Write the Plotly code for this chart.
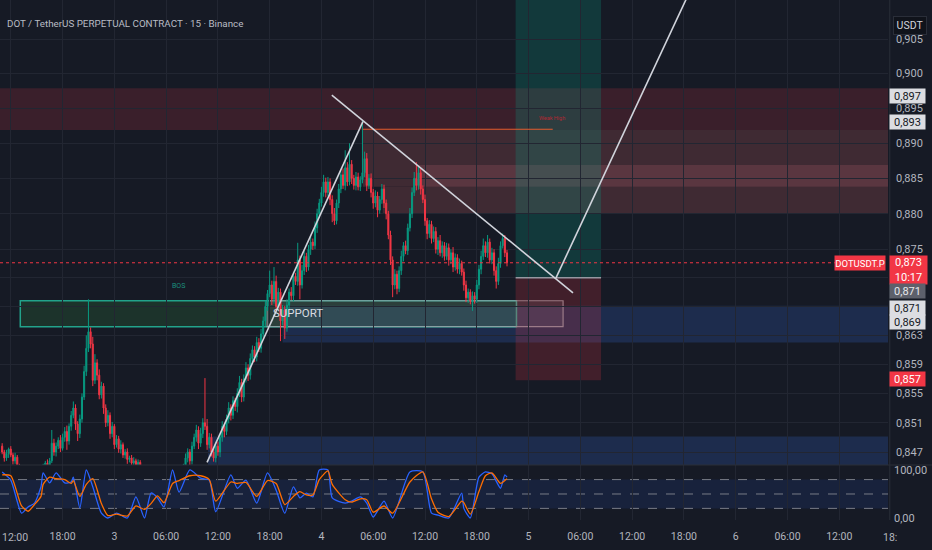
import math
import plotly.graph_objects as go
from plotly.subplots import make_subplots

# DOTUSDT.P 15m candles, prices in 1/10000 USDT, open = previous close
first_open = 8478
closes = [
    8470, 8462, 8468, 8474, 8466, 8458, 8463,
    8450, 8444, 8438, 8441, 8435, 8430, 8433, 8438, 8436, 8442, 8445, 8440, 8448,
    8455, 8452, 8458, 8482, 8470,
    8478, 8486, 8475, 8490, 8498, 8485, 8505, 8520, 8530, 8508, 8495, 8515, 8545, 8580, 8612,
    8635, 8618, 8568, 8592, 8575, 8548, 8560, 8530, 8510, 8520,
    8495, 8505, 8480, 8488, 8474, 8480, 8466, 8470, 8460, 8462,
    8455, 8458, 8452, 8456, 8446,
    8440, 8435, 8430, 8436, 8428, 8424, 8430, 8433, 8427, 8422,
    8426, 8432, 8438, 8434, 8440, 8436, 8442, 8446, 8444, 8450,
    8462, 8470, 8458, 8478, 8490, 8500, 8482, 8495, 8510, 8505,
    8480, 8490, 8470, 8462,
    8478, 8470, 8490, 8505, 8498, 8515, 8530, 8520, 8540, 8532,
    8550, 8565, 8545, 8570, 8585, 8575, 8598, 8610, 8600, 8620,
    8612, 8632, 8650, 8670, 8688, 8700, 8680, 8705, 8670, 8690,
    8650, 8665,
    8640, 8672, 8690, 8685, 8712, 8705, 8735, 8700, 8720, 8740,
    8725, 8750, 8760, 8755, 8780, 8800, 8815, 8830, 8845, 8830,
    8845, 8820, 8800, 8790, 8815, 8835, 8855, 8840, 8865, 8845,
    8870, 8850, 8840, 8852, 8838, 8848, 8858,
    8878, 8840, 8850, 8830, 8815, 8825, 8805, 8820, 8835, 8815,
    8800, 8770, 8735, 8700, 8715, 8695, 8720, 8740, 8755, 8748,
    8780, 8800, 8830, 8850, 8840, 8858, 8835, 8820, 8790, 8772,
    8785, 8765, 8775, 8750, 8762, 8745, 8755, 8740, 8752, 8735,
    8745, 8725, 8738, 8722, 8730, 8718, 8700, 8682, 8690, 8678,
    8685, 8680, 8700, 8722, 8740, 8755, 8745, 8760, 8735, 8745,
    8720, 8705, 8730, 8755, 8765, 8745, 8731,
]
wick_up = [
    4, 3, 5, 2, 4, 3, 6, 3, 4, 2,
    5, 3, 4, 6, 3, 4, 5, 3, 4, 6,
    3, 5, 4, 18, 6, 5, 4, 7, 5, 6,
    8, 4, 6, 9, 5, 4, 6, 5, 8, 18,
    45, 6, 10, 12, 5, 8, 6, 4, 5, 7,
    4, 6, 3, 5, 4, 6, 3, 4, 5, 3,
    4, 5, 3, 4, 3, 5, 4, 3, 5, 4,
    3, 4, 5, 3, 4, 5, 3, 6, 4, 5,
    3, 4, 5, 3, 4, 6, 5, 4, 6, 5,
    7, 5, 8, 6, 61, 10, 6, 5, 4, 5,
    6, 5, 7, 4, 6, 8, 5, 6, 4, 7,
    9, 5, 6, 8, 5, 7, 6, 5, 8, 6,
    7, 6, 8, 5, 20, 6, 20, 8, 6, 5,
    7, 6, 8, 5, 7, 6, 5, 24, 6, 8,
    7, 5, 6, 8, 5, 9, 7, 6, 8, 10,
    6, 7, 5, 6, 8, 5, 7, 6, 9, 25,
    8, 30, 6, 5, 7, 6, 5, 74, 10, 8,
    6, 7, 5, 8, 6, 5, 7, 6, 5, 4,
    6, 5, 7, 5, 6, 8, 5, 7, 6, 8,
    7, 9, 23, 10, 6, 5, 7, 4, 6, 5,
    7, 6, 5, 8, 6, 5, 7, 6, 5, 8,
    6, 5, 7, 4, 5, 6, 5, 4, 6, 5,
    7, 6, 8, 10, 6, 10, 5, 7, 5, 6,
    8, 6, 7, 5, 4,
]
wick_dn = [
    3, 5, 4, 6, 3, 5, 4, 6, 3, 5,
    4, 6, 3, 5, 4, 3, 6, 4, 5, 3,
    6, 4, 5, 3, 5, 6, 4, 5, 3, 6,
    12, 5, 6, 4, 8, 10, 6, 5, 4, 6,
    5, 6, 8, 5, 7, 6, 5, 8, 6, 5,
    7, 5, 6, 4, 5, 6, 4, 5, 6, 4,
    5, 4, 6, 3, 5, 4, 6, 5, 3, 5,
    4, 6, 3, 5, 4, 6, 5, 3, 4, 6,
    5, 4, 6, 3, 5, 4, 6, 7, 5, 4,
    6, 8, 5, 6, 5, 7, 5, 6, 5, 6,
    5, 7, 6, 8, 5, 6, 7, 5, 6, 8,
    5, 7, 6, 5, 8, 6, 5, 7, 6, 5,
    6, 5, 7, 6, 5, 8, 6, 7, 5, 28,
    6, 15, 5, 7, 6, 8, 5, 6, 20, 5,
    6, 7, 5, 8, 6, 5, 7, 6, 5, 6,
    7, 5, 8, 12, 6, 5, 7, 6, 5, 7,
    6, 5, 8, 6, 7, 5, 6, 5, 6, 8,
    5, 7, 8, 6, 10, 5, 6, 7, 8, 6,
    7, 17, 6, 8, 5, 6, 7, 5, 6, 5,
    6, 5, 7, 6, 8, 5, 7, 8, 6, 7,
    5, 6, 8, 5, 7, 6, 5, 8, 6, 7,
    5, 6, 7, 5, 8, 6, 7, 5, 14, 6,
    5, 6, 7, 5, 6, 7, 5, 6, 7, 10,
    5, 6, 4, 6, 5,
]

# Stoch RSI read at these candle indexes
stoch_idx = [0, 4, 9, 12, 15, 18, 19, 22, 25, 29, 32, 33, 36, 39, 42, 46, 49, 53, 58, 62,
             66, 69, 72, 75, 79, 82, 87, 92, 96, 99, 106, 109, 113, 118, 123, 127, 131, 135,
             138, 141, 144, 147, 151, 153, 159, 162, 166, 169, 172, 177, 181, 189, 195, 199,
             202, 207, 213, 214, 217, 221, 224, 227, 231, 233, 234]
stoch_k = [96, 79, 10, 23, 31, 65, 94, 73, 94, 73, 75, 85, 21, 100, 65, 10, 0, 10, 0, 44,
           0, 52, 42, 23, 100, 54, 100, 83, 79, 13, 90, 62, 79, 31, 94, 58, 10, 65,
           42, 52, 44, 100, 100, 42, 31, 35, 44, 31, 2, 35, 0, 96, 96, 10,
           6, 0, 52, 20, 0, 85, 96, 92, 62, 90, 85]
stoch_d = [90, 88, 25, 14, 28, 45, 70, 85, 82, 80, 72, 78, 45, 70, 82, 30, 5, 8, 4, 25,
           18, 30, 46, 32, 72, 78, 88, 88, 80, 35, 75, 72, 74, 45, 78, 72, 28, 45,
           55, 48, 48, 80, 98, 70, 38, 33, 40, 38, 12, 25, 10, 75, 96, 40,
           12, 3, 35, 32, 8, 55, 88, 94, 72, 78, 82]

# time axis in hours from day "3" 00:00 (first label drawn separately at the left edge)
time_ticks = [-12, -6, 0, 6, 12, 18, 24, 30, 36, 42, 48, 54, 60, 66, 72, 78, 84]
time_labels = ["", "18:00", "3", "06:00", "12:00", "18:00", "4", "06:00", "12:00",
               "18:00", "5", "06:00", "12:00", "18:00", "6", "06:00", "12:00"]
price_ticks = [0.847, 0.851, 0.855, 0.859, 0.863, 0.867, 0.871, 0.875,
               0.880, 0.885, 0.890, 0.895, 0.900, 0.905]
price_labels = ["0,847", "0,851", "0,855", "0,859", "0,863", "", "", "0,875",
                "0,880", "0,885", "0,890", "0,895", "0,900", "0,905"]

BG = "#161a25"
GRID = "#222632"
TXT = "#b2b5be"
UP = "#089981"
DN = "#f23645"
FONT = "Roboto"

n = len(closes)
times = [-13.0 + 0.25 * i for i in range(n)]
opens = [first_open] + closes[:-1]
o = [v / 1e4 for v in opens]
c = [v / 1e4 for v in closes]
hi = [(max(a, b) + u) / 1e4 for a, b, u in zip(opens, closes, wick_up)]
lo = [(min(a, b) - d) / 1e4 for a, b, d in zip(opens, closes, wick_dn)]

fig = make_subplots(rows=2, cols=1, shared_xaxes=True, vertical_spacing=0)

fig.add_trace(go.Candlestick(
    x=times, open=o, high=hi, low=lo, close=c,
    increasing=dict(line=dict(color=UP, width=1), fillcolor=UP),
    decreasing=dict(line=dict(color=DN, width=1), fillcolor=DN),
    showlegend=False, hoverinfo="skip",
), row=1, col=1)

sx = [times[i] for i in stoch_idx]
fig.add_trace(go.Scatter(x=sx, y=stoch_k, mode="lines",
                         line=dict(color="#2962ff", width=1.3, shape="spline", smoothing=0.6),
                         showlegend=False, hoverinfo="skip"), row=2, col=1)
fig.add_trace(go.Scatter(x=sx, y=stoch_d, mode="lines",
                         line=dict(color="#ff6d00", width=1.3, shape="spline", smoothing=0.6),
                         showlegend=False, hoverinfo="skip"), row=2, col=1)


def zone(x0, x1, y0, y1, fill, line_color=None, line_width=0, xref="x"):
    fig.add_shape(type="rect", xref=xref, yref="y", x0=x0, x1=x1, y0=y0, y1=y1,
                  fillcolor=fill, layer="below",
                  line=dict(color=line_color or "rgba(0,0,0,0)", width=line_width))


def seg(x0, y0, x1, y1, color, width=1.5, dash="solid"):
    fig.add_shape(type="line", xref="x", yref="y", x0=x0, y0=y0, x1=x1, y1=y1,
                  line=dict(color=color, width=width, dash=dash), layer="above")


# supply / demand zones
zone(0, 1, 0.8919, 0.8979, "#3a1f2b", xref="x domain")
zone(28.8, 95, 0.8838, 0.8919, "#3f2a33")
zone(31.1, 95, 0.8800, 0.8838, "#3f2a33")
zone(35.1, 95, 0.8838, 0.8869, "#5a3640")
zone(19.5, 95, 0.8620, 0.8671, "#1d2c4d")
zone(10.85, 95, 0.8400, 0.8491, "#1d2c4d")
zone(-10.9, 46.6, 0.8642, 0.8678, "rgba(50,140,70,0.22)", "#22a38b", 1.5)
zone(17.7, 52.0, 0.8642, 0.8678, "rgba(120,123,134,0.18)", "rgba(160,163,170,0.8)", 1.2)

# long position tool
zone(46.5, 56.4, 0.8710, 0.95, "rgba(8,153,129,0.25)")
zone(46.5, 56.4, 0.8568, 0.8710, "rgba(242,54,69,0.2)")
seg(46.5, 0.8710, 56.4, 0.8710, "#9598a1", 1.5)

# drawings
seg(28.8, 0.8920, 50.8, 0.8920, "#e65c2e", 1.2)
seg(-13.25, 0.8731, 95, 0.8731, DN, 1, "dot")
seg(10.74, 0.8456, 28.8, 0.8931, "#d1d4dc", 1.6)
seg(25.2, 0.8969, 53.15, 0.8689, "#d1d4dc", 1.6)
seg(51.18, 0.8710, 68.0, 0.9155, "#d1d4dc", 1.6)

# stoch bands
fig.add_shape(type="rect", xref="x2 domain", yref="y2", x0=0, x1=1, y0=20, y1=80,
              fillcolor="rgba(41,98,255,0.11)", line=dict(width=0), layer="below")
for lvl in (20, 50, 80):
    fig.add_shape(type="line", xref="x2 domain", yref="y2", x0=0, x1=1, y0=lvl, y1=lvl,
                  line=dict(color="#787b86", width=1, dash="dash"), layer="below")

# pane separators
fig.add_shape(type="line", xref="paper", yref="paper", x0=0, x1=1.06, y0=55 / 520, y1=55 / 520,
              line=dict(color="#2a2e39", width=1))
fig.add_shape(type="line", xref="paper", yref="paper", x0=1.002, x1=1.002, y0=0, y1=1,
              line=dict(color="#2a2e39", width=1))

L = math.log10


def text(x, y, s, color, size, anchor="center"):
    fig.add_annotation(x=x, y=L(y), xref="x", yref="y", text=s, showarrow=False,
                       xanchor=anchor, font=dict(color=color, size=size, family=FONT))


text(7.38, 0.86985, "BOS", "#1b8f7d", 7)
text(18.1, 0.8661, "SUPPORT", "#d9dbe0", 11.5, "left")
text(50.7, 0.89361, "Weak High", "#b22833", 5.5)


def side_label(price, s, bg, fg, h=14, w=35):
    fig.add_annotation(x=1, xref="paper", xanchor="left", xshift=1, y=L(price), yref="y",
                       text=s, showarrow=False, bgcolor=bg, width=w, height=h, borderpad=0,
                       font=dict(color=fg, size=11, family=FONT))


side_label(0.8968, "0,897", "#dcdde2", "#131722")
side_label(0.8931, "0,893", "#dcdde2", "#131722")
side_label(0.8721, "0,873<br>10:17", DN, "#ffffff", h=28, w=37)
side_label(0.8692, "0,871", "#5d606b", "#e8e9ec")
side_label(0.8668, "0,871", "#dcdde2", "#131722")
side_label(0.8649, "0,869", "#dcdde2", "#131722")
side_label(0.8570, "0,857", DN, "#ffffff")
fig.add_annotation(x=1, xref="paper", xanchor="right", xshift=-2, y=L(0.8731), yref="y",
                   text="DOTUSDT.P", showarrow=False, bgcolor=DN, width=50, height=14,
                   borderpad=0, font=dict(color="#ffffff", size=9.5, family=FONT))
fig.add_annotation(x=1, xref="paper", xanchor="center", xshift=22, y=(520 - 16) / 520,
                   yref="paper", text="USDT", showarrow=False, bgcolor="#10131b",
                   bordercolor="#2a2e39", borderwidth=1, borderpad=0, width=32, height=17,
                   font=dict(color="#d1d4dc", size=10.5, family=FONT))
fig.add_annotation(x=0, xref="paper", xanchor="left", xshift=5, y=(520 - 16) / 520,
                   yref="paper", text="DOT / TetherUS PERPETUAL CONTRACT · 15 · Binance",
                   showarrow=False, font=dict(color="#b9bcc4", size=9.8, family=FONT))
fig.add_annotation(x=0, xref="paper", xanchor="left", xshift=0, y=-17 / 520, yref="paper",
                   yanchor="middle", text="12:00", showarrow=False,
                   font=dict(color=TXT, size=10.5, family=FONT))
fig.add_annotation(x=881 / 888, xref="paper", xanchor="left", y=-17 / 520, yref="paper",
                   yanchor="middle", text="18:", showarrow=False,
                   font=dict(color=TXT, size=10.5, family=FONT))

axis_font = dict(color=TXT, size=11, family=FONT)
fig.update_layout(
    width=932, height=550,
    margin=dict(l=0, r=44, t=0, b=30),
    paper_bgcolor=BG, plot_bgcolor=BG,
    font=dict(family=FONT, color=TXT),
    showlegend=False,
    xaxis=dict(range=[-13.25, 89.65], tickvals=time_ticks, ticktext=time_labels,
               showticklabels=False, showgrid=True, gridcolor=GRID, zeroline=False,
               rangeslider=dict(visible=False), showline=False, automargin=False),
    xaxis2=dict(range=[-13.25, 89.65], tickvals=time_ticks, ticktext=time_labels,
                showgrid=True, gridcolor=GRID, zeroline=False, tickfont=dict(axis_font, size=10.5),
                ticks="", ticklabelstandoff=8, showline=False, automargin=False),
    yaxis=dict(type="log", domain=[55 / 520, 1], side="right",
               range=[L(0.84524), L(0.91068)], tickvals=price_ticks, ticktext=price_labels,
               showgrid=True, gridcolor=GRID, zeroline=False, tickfont=axis_font,
               ticks="", ticklabelstandoff=7, showline=False, automargin=False),
    yaxis2=dict(domain=[0, 55 / 520], side="right", range=[-4.2, 110.4],
                tickvals=[0, 100], ticktext=["0,00", "100,00"], showgrid=False,
                zeroline=False, tickfont=axis_font, ticks="", ticklabelstandoff=5,
                showline=False, automargin=False),
)

# page body margin would otherwise shift the 932x550 figure inside the window
fig.write_html("out.html", config={"displayModeBar": False},
               post_script="document.body.style.margin='0';")
